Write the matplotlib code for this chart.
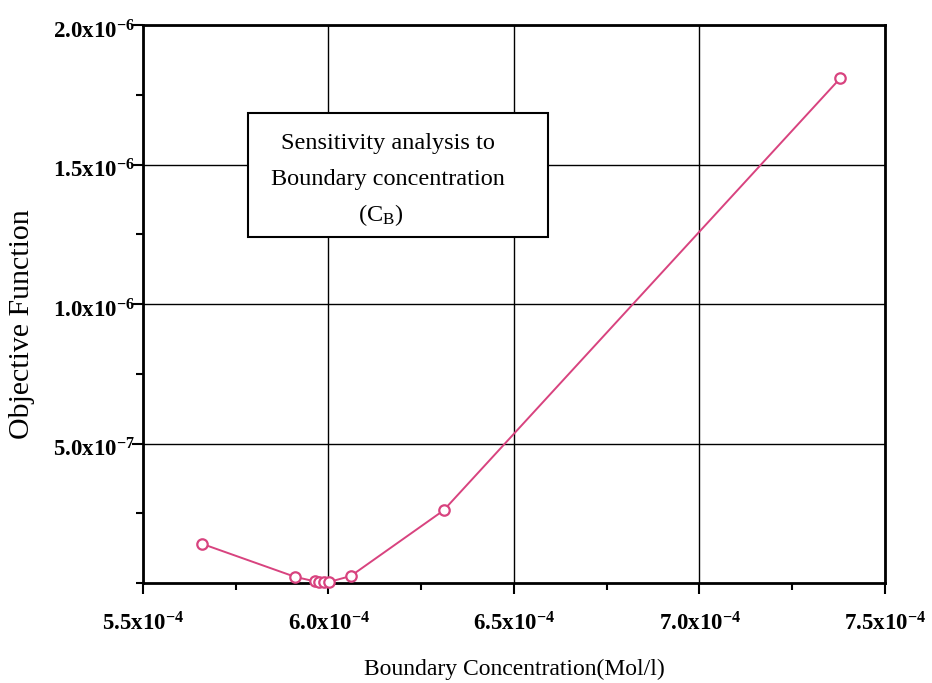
import matplotlib
matplotlib.use("Agg")
import matplotlib.pyplot as plt
from matplotlib.patches import Rectangle
from matplotlib.ticker import FixedLocator, MultipleLocator
from matplotlib.transforms import ScaledTranslation

# Data
conc = [5.66e-4, 5.91e-4, 5.963e-4, 5.975e-4, 5.988e-4, 6.002e-4, 6.06e-4, 6.31e-4, 7.38e-4]
objective = [1.40e-7, 2.2e-8, 6e-9, 5e-9, 5e-9, 4e-9, 2.5e-8, 2.6e-7, 1.81e-6]

x_ticks = [5.5e-4, 6.0e-4, 6.5e-4, 7.0e-4, 7.5e-4]
x_tick_labels = [r"5.5x10$^{\mathbf{-4}}$", r"6.0x10$^{\mathbf{-4}}$", r"6.5x10$^{\mathbf{-4}}$",
                 r"7.0x10$^{\mathbf{-4}}$", r"7.5x10$^{\mathbf{-4}}$"]
y_ticks = [5.0e-7, 1.0e-6, 1.5e-6, 2.0e-6]
y_tick_labels = [r"5.0x10$^{\mathbf{-7}}$", r"1.0x10$^{\mathbf{-6}}$", r"1.5x10$^{\mathbf{-6}}$",
                 r"2.0x10$^{\mathbf{-6}}$"]

plt.rcParams['font.family'] = ['Liberation Serif', 'DejaVu Serif']
plt.rcParams['mathtext.fontset'] = 'custom'
plt.rcParams['mathtext.rm'] = 'Liberation Serif'
plt.rcParams['mathtext.bf'] = 'Liberation Serif:bold'
plt.rcParams['mathtext.it'] = 'Liberation Serif:italic'

fig = plt.figure(figsize=(9.32, 6.83), dpi=100)
ax = fig.add_axes([143/932, 100/683, 742/932, 558/683])

line_color = '#d8437f'
ax.plot(conc, objective, color=line_color, lw=1.4, marker='o', ms=7.5,
        mfc='white', mec=line_color, mew=1.6, zorder=5, clip_on=False)

ax.set_xlim(5.5e-4, 7.5e-4)
ax.set_ylim(0, 2.0e-6)

ax.xaxis.set_major_locator(FixedLocator(x_ticks))
ax.set_xticklabels(x_tick_labels, fontsize=16.5, fontweight='bold')
ax.yaxis.set_major_locator(FixedLocator(y_ticks))
ax.set_yticklabels(y_tick_labels, fontsize=16.5, fontweight='bold')
ax.xaxis.set_minor_locator(MultipleLocator(2.5e-5))
ax.yaxis.set_minor_locator(MultipleLocator(2.5e-7))

ax.tick_params(which='major', direction='out', length=8, width=1.5)
ax.tick_params(which='minor', direction='out', length=5, width=1.5)
ax.tick_params(axis='x', which='major', pad=13)
ax.tick_params(axis='y', which='major', pad=-2)
shift = ScaledTranslation(0, -4/100, fig.dpi_scale_trans)
for lbl in ax.get_yticklabels():
    lbl.set_transform(lbl.get_transform() + shift)

ax.grid(True, which='major', color='black', lw=1.0)
ax.set_axisbelow(True)
for s in ax.spines.values():
    s.set_linewidth(2.0)

ax.set_xlabel("Boundary Concentration(Mol/l)", fontsize=17, labelpad=17)
ax.set_ylabel("Objective Function", fontsize=21.5)
ax.yaxis.set_label_coords(-0.1455, 0.464)

# annotation box
bx0, bx1 = 0.1415, 0.546
by0, by1 = 0.620, 0.842
ax.add_patch(Rectangle((bx0, by0), bx1 - bx0, by1 - by0, transform=ax.transAxes,
                       facecolor='white', edgecolor='black', lw=1.5, zorder=3))
cx = 0.330
ax.text(cx, (583-144)/558, "Sensitivity analysis to", transform=ax.transAxes,
        ha='center', va='center', fontsize=17.5, zorder=4)
ax.text(cx, (583-180)/558, "Boundary concentration", transform=ax.transAxes,
        ha='center', va='center', fontsize=17.5, zorder=4)
ax.text(cx - 0.01, (583-215)/558, r"(C$_{\mathrm{B}}$)", transform=ax.transAxes,
        ha='center', va='center', fontsize=17.5, zorder=4)

fig.savefig("out.png", dpi=100, facecolor='white')
